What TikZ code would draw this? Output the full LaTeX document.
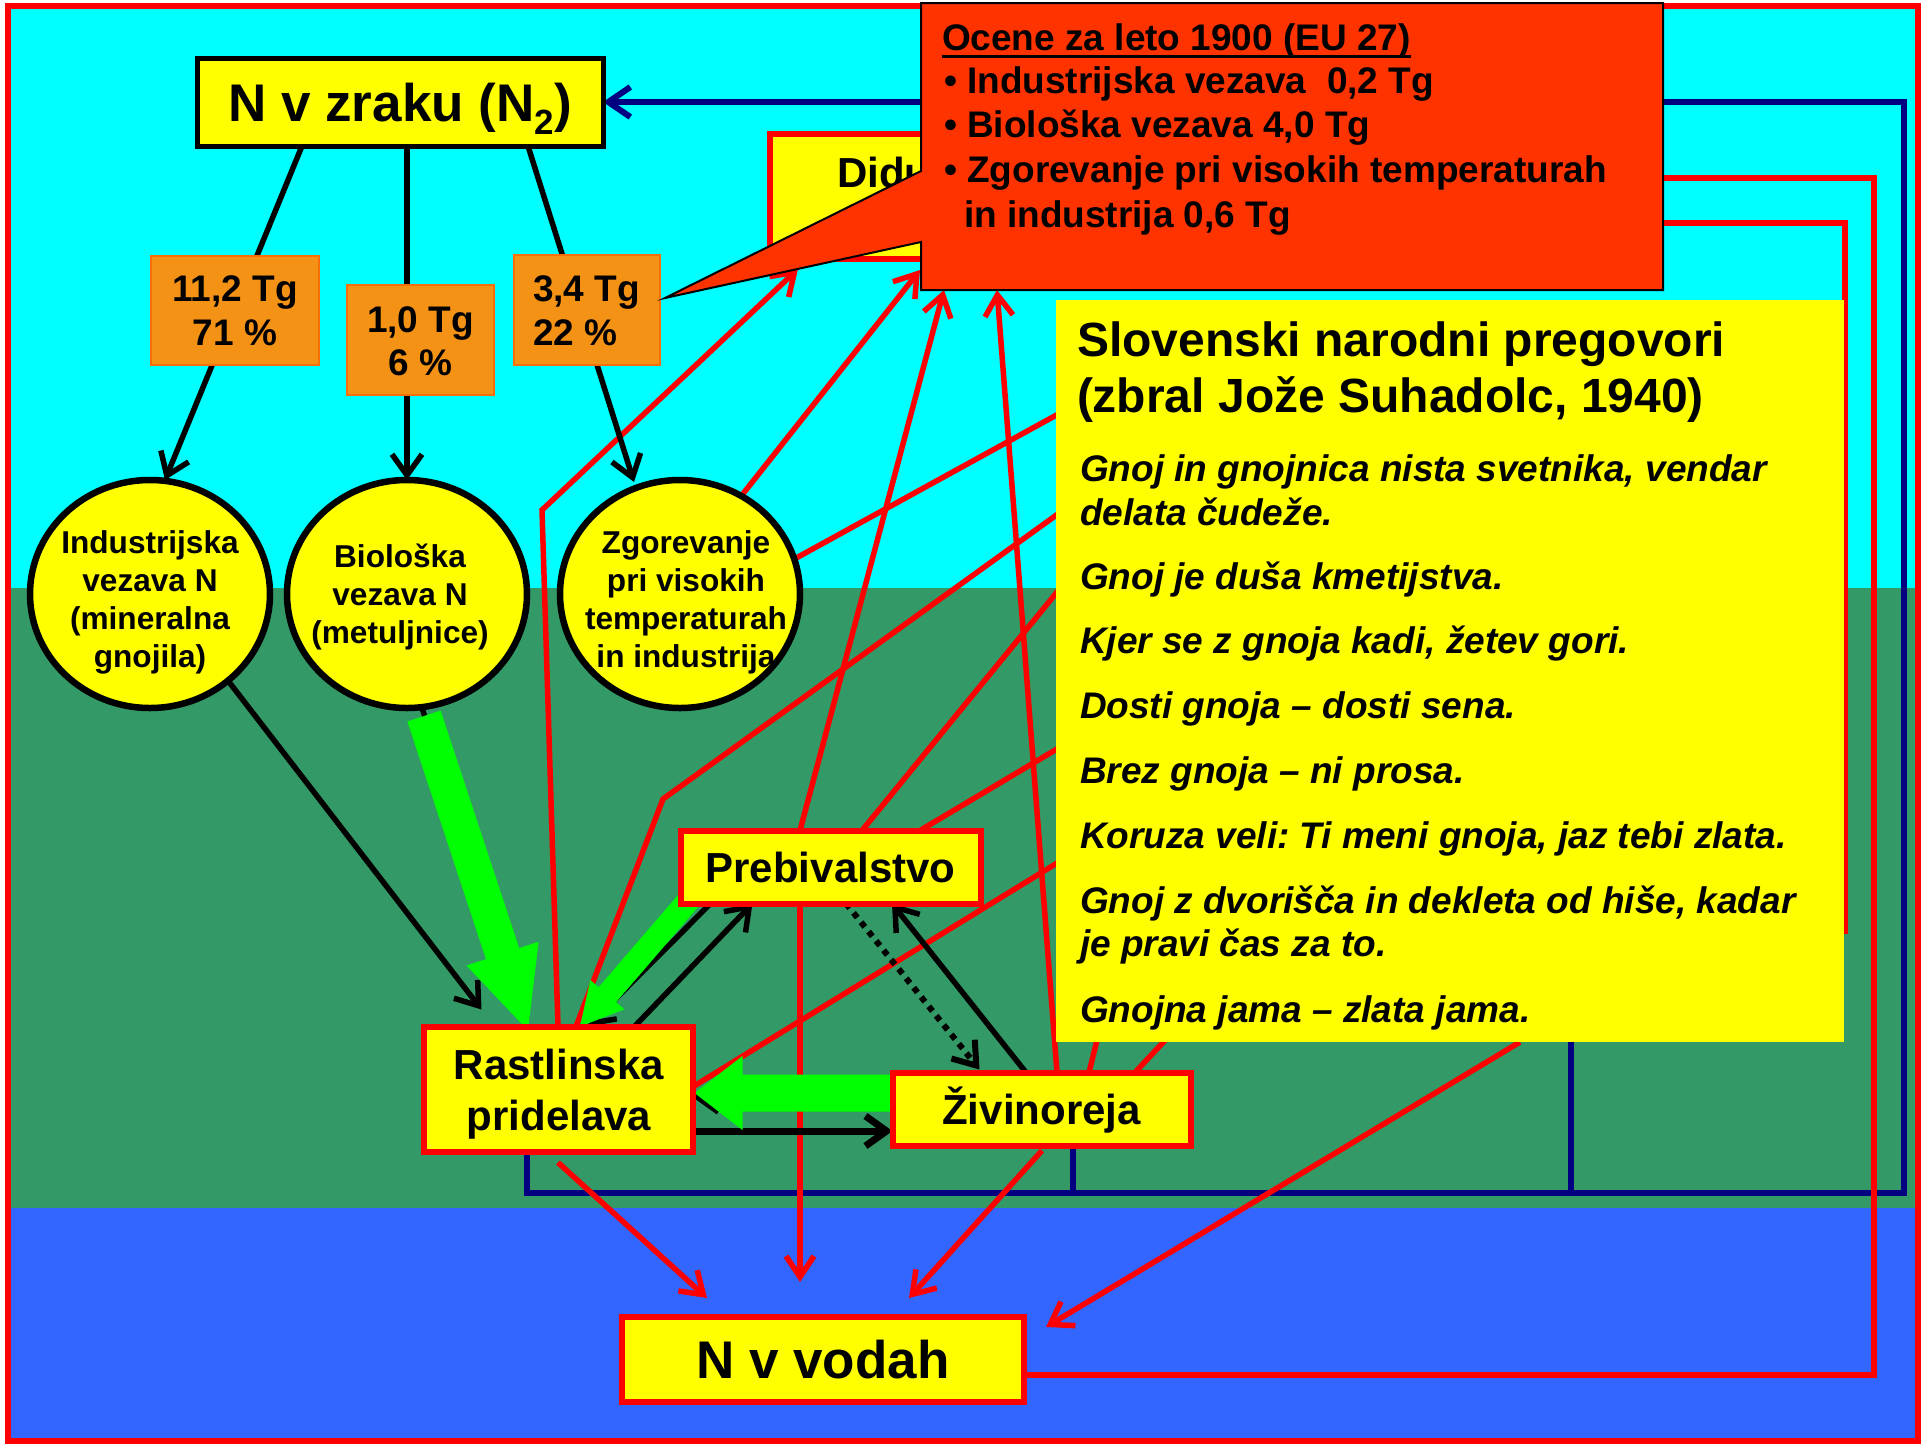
\documentclass[tikz,border=0pt]{standalone}
\usepackage{fontspec}
\setmainfont{Liberation Sans}
\usetikzlibrary{arrows.meta,shapes.geometric,calc}
\frenchspacing

\definecolor{skyc}{RGB}{0,255,255}
\definecolor{fieldc}{RGB}{51,153,102}
\definecolor{waterc}{RGB}{51,102,255}
\definecolor{boxyellow}{RGB}{255,255,0}
\definecolor{tgorange}{RGB}{244,146,22}
\definecolor{tgedge}{RGB}{250,110,10}
\definecolor{calloutc}{RGB}{255,51,0}
\definecolor{navyc}{RGB}{0,0,128}
\definecolor{flowgreen}{RGB}{0,255,0}
\definecolor{redc}{RGB}{255,0,0}

\pgfdeclarelayer{backdrop}
\pgfdeclarelayer{wires}
\pgfdeclarelayer{flows}
\pgfsetlayers{backdrop,wires,flows,main}

\newcommand{\fsz}[2]{\fontsize{#1pt}{#2pt}\selectfont}
% thick green flow arrow: start, tip, shaft half width, head length, head half width
\newcommand{\greenflow}[5]{%
  \coordinate (gfbase) at ($(#2)!#4!(#1)$);
  \fill[flowgreen] ($(#1)!#3!90:(#2)$) -- ($(gfbase)!#3!90:(#2)$) -- ($(gfbase)!#5!90:(#2)$) -- (#2)
    -- ($(gfbase)!#5!-90:(#2)$) -- ($(gfbase)!#3!-90:(#2)$) -- ($(#1)!#3!-90:(#2)$) -- cycle;}

\begin{document}
\begin{tikzpicture}[x=1pt,y=-1pt,
  every node/.style={inner sep=0pt,outer sep=0pt},
  hub/.style={rectangle,fill=boxyellow,draw=redc,line width=6pt,font=\bfseries\fsz{42}{51},text height=30pt,text depth=0pt},
  tgbox/.style={rectangle,fill=tgorange,draw=tgedge,line width=2pt},
  source/.style={ellipse,fill=boxyellow,draw=black,line width=6.5pt,minimum width=240pt,minimum height=228pt},
  srctext/.style={anchor=base,font=\bfseries\fsz{31.6}{38}},
  tgtext/.style={anchor=base,font=\bfseries\fsz{37}{45}},
  hubtext/.style={anchor=base,font=\bfseries\fsz{42}{51}},
  cline/.style={anchor=base west,font=\bfseries\fsz{37}{44}},
  phead/.style={anchor=base west,font=\bfseries\fsz{48}{56}},
  pline/.style={anchor=base west,font=\bfseries\itshape\fsz{37}{44}},
  blackline/.style={draw=black,line width=5.5pt},
  blackarrow/.style={blackline,-{Straight Barb[length=21pt,width=30pt]}},
  redline/.style={draw=redc,line width=5.5pt},
  redarrow/.style={redline,-{Straight Barb[length=21pt,width=28pt]}},
  navyline/.style={draw=navyc,line width=6pt}
]
\useasboundingbox (0,0) rectangle (1922,1446);

% sky, soil and water bands with the frame
\begin{pgfonlayer}{backdrop}
  \fill[white] (0,0) rectangle (1922,1446);
  \fill[skyc] (8,6) rectangle (1918,588);
  \fill[fieldc] (8,588) rectangle (1918,1208);
  \fill[waterc] (8,1208) rectangle (1918,1441);
  \draw[redc,line width=6.5pt] (8,6) rectangle (1918,1441);
\end{pgfonlayer}

% N in the air
\node[rectangle,fill=boxyellow,draw=black,line width=5pt,minimum width=406pt,minimum height=88pt,
      font=\bfseries\fsz{53}{60},text height=38pt,text depth=0pt] (nzrak) at (400,102)
  {N v zraku (N\raisebox{-13pt}[0pt][0pt]{\fsz{35}{35}2})};

% fixation amounts
\node[tgbox,minimum width=168pt,minimum height=109pt] (tg1) at (235,310) {};
\node[tgtext] (tg1a) at (235,301) {11,2 Tg};
\node[tgtext] (tg1b) at (235,345) {71 \%};
\node[tgbox,minimum width=147pt,minimum height=110pt] (tg2) at (420.5,340) {};
\node[tgtext] (tg2a) at (420.5,332) {1,0 Tg};
\node[tgtext] (tg2b) at (420.5,375) {6 \%};
\node[tgbox,minimum width=146pt,minimum height=110pt] (tg3) at (587,310) {};
\node[tgtext,anchor=base west] (tg3a) at (533,301) {3,4 Tg};
\node[tgtext,anchor=base west] (tg3b) at (533,345) {22 \%};

% fixation sources
\node[source] (e1) at (150,594) {};
\node[srctext] (e1a) at (150,553) {Industrijska};
\node[srctext] (e1b) at (150,591) {vezava N};
\node[srctext] (e1c) at (150,629) {(mineralna};
\node[srctext] (e1d) at (150,667) {gnojila)};
\node[source] (e2) at (407,594) {};
\node[srctext] (e2a) at (400,567) {Biološka};
\node[srctext] (e2b) at (400,605) {vezava N};
\node[srctext] (e2c) at (400,643) {(metuljnice)};
\node[source] (e3) at (680,594) {};
\node[srctext] (e3a) at (686,553) {Zgorevanje};
\node[srctext] (e3b) at (686,591) {pri visokih};
\node[srctext] (e3c) at (686,629) {temperaturah};
\node[srctext] (e3d) at (686,667) {in industrija};

% land use and water
\node[hub,minimum width=269pt,minimum height=125pt] (rast) at (558,1089) {};
\node[hubtext] (rasta) at (559,1079) {Rastlinska};
\node[hubtext] (rastb) at (559,1130) {pridelava};
\node[hub,minimum width=300pt,minimum height=73pt] (preb) at (830.5,867) {Prebivalstvo};
\node[hub,minimum width=298pt,minimum height=73pt] (ziv) at (1041.5,1109) {Živinoreja};
\node[hub,minimum width=402pt,minimum height=85pt,font=\bfseries\fsz{53}{60},text height=38pt] (voda) at (823,1359.5) {N v vodah};

% nitrous oxide box, partly under the note
\node[rectangle,fill=boxyellow,draw=redc,line width=5.5pt,minimum width=180pt,minimum height=125pt] (didu) at (860,196.5) {};
\node[anchor=base west,font=\bfseries\fsz{42}{51}] (didut) at (837,187) {Didu};

% estimates note with pointer
\node[rectangle,minimum width=742pt,minimum height=287pt] (callout) at (1292,146.5) {};
\coordinate (ctip) at ($(tg3.east)+(5,-12)$);
\filldraw[fill=calloutc,draw=black,line width=2pt]
  (callout.north west) -- (callout.north east) -- (callout.south east) -- (callout.south west)
  -- ($(callout.south west)+(0,-48)$) -- (ctip) -- ($(callout.north west)+(0,168)$) -- cycle;
\node[cline] (c1) at (942,50) {Ocene za leto 1900 (EU 27)};
\draw[line width=3pt] ($(c1.base west)+(0,6)$) -- ($(c1.base east)+(0,6)$);
\node[cline] (c2) at (944,93) {• Industrijska vezava~~0,2 Tg};
\node[cline] (c3) at (944,137) {• Biološka vezava 4,0 Tg};
\node[cline] (c4) at (944,182) {• Zgorevanje pri visokih temperaturah};
\node[cline] (c5) at (964,227) {in industrija 0,6 Tg};

% proverbs panel
\node[rectangle,fill=boxyellow,minimum width=788pt,minimum height=742pt] (preg) at (1450,671) {};
\node[phead] (ph1) at (1077,356) {Slovenski narodni pregovori};
\node[phead] (ph2) at (1077,412) {(zbral Jože Suhadolc, 1940)};
\node[pline] (pl1) at (1080,481) {Gnoj in gnojnica nista svetnika, vendar};
\node[pline] (pl2) at (1080,525) {delata čudeže.};
\node[pline] (pl3) at (1080,589) {Gnoj je duša kmetijstva.};
\node[pline] (pl4) at (1080,653) {Kjer se z gnoja kadi, žetev gori.};
\node[pline] (pl5) at (1080,718) {Dosti gnoja -- dosti sena.};
\node[pline] (pl6) at (1080,783) {Brez gnoja -- ni prosa.};
\node[pline] (pl7) at (1080,848) {Koruza veli: Ti meni gnoja, jaz tebi zlata.};
\node[pline] (pl8) at (1080,913) {Gnoj z dvorišča in dekleta od hiše, kadar};
\node[pline] (pl9) at (1080,956) {je pravi čas za to.};
\node[pline] (pl10) at (1080,1022) {Gnojna jama -- zlata jama.};

\begin{pgfonlayer}{wires}
  % navy return path to the air
  \draw[navyline,-{Straight Barb[length=22pt,width=30pt]}] ($(rast.south)+(-31,0)$) |- ($(nzrak.east)+(1301,1091)$) |- (nzrak.east);
  \draw[navyline] ($(ziv.south)+(31.5,0)$) -- ++(0,48);
  \draw[navyline] ($(preg.south west)+(515,0)$) -- ++(0,151);
  % losses
  \draw[redarrow] (rast.north) -- ++(-16,-516.5) -- ($(didu.south)+(-62,10)$);
  \draw[redline] ($(rast.north)+(18,0)$) -- ++(87,-227.5) -- ($(preg.north west)+(6,211)$);
  \draw[redarrow] (e3.58) -- ($(callout.south west)+(-1,-20)$);
  \draw[redarrow] ($(preb.north)+(-30.5,0)$) -- ($(callout.south west)+(23,0)$);
  \draw[redarrow] ($(ziv.north)+(15.5,0)$) -- ($(callout.south west)+(76,0)$);
  \draw[redline] (e3.17) -- ($(preg.north west)+(6,112)$);
  \draw[redline] ($(preb.north)+(31.5,0)$) -- ($(preg.north west)+(6,286)$);
  \draw[redline] ($(preb.north east)+(-60.5,0)$) -- ($(preg.north west)+(6,446)$);
  \draw[redline] ($(rast.east)+(0,-2)$) -- ($(preg.north west)+(6,560)$);
  \draw[redline] ($(ziv.north)+(47.5,0)$) -- ($(preg.south west)+(42,-6)$);
  \draw[redline] ($(ziv.north)+(93.5,0)$) -- ($(preg.south west)+(113,-6)$);
  \draw[redarrow] ($(preg.south west)+(464,0)$) -- ($(voda.north east)+(22,10)$);
  \draw[redarrow] ($(rast.south)+(0,11)$) -- ($(voda.north west)+(85,-19)$);
  \draw[redarrow] ($(preb.south)+(-30.5,0)$) -- ($(voda.north)+(-23,-35)$);
  \draw[redarrow] ($(ziv.south)+(0.5,5)$) -- ($(voda.north)+(86,-19)$);
  \draw[redline,line width=6.5pt] ($(voda.east)+(0,15.5)$) -| ($(callout.north east)+(211,175)$) -- ($(callout.north east)+(0,175)$);
  \draw[redline,line width=6pt] ($(callout.north east)+(0,220)$) -- ++(182,0) -- ++(0,711);
  % fixation and exchange
  \draw[blackarrow] ($(nzrak.south)+(-98,0)$) -- ($(e1.north)+(15,0)$);
  \draw[blackarrow] ($(nzrak.south)+(7,0)$) -- (e2.north);
  \draw[blackarrow] ($(nzrak.south)+(128,0)$) -- ($(e3.north)+(-46,2)$);
  \draw[blackarrow] (e1.-48) -- ($(rast.north west)+(58,-17)$);
  \draw[blackline] ($(e2.south)+(15,0)$) -- ($(rast.north)+(-40,-30)$);
  \draw[blackarrow] ($(rast.north east)+(-58,0)$) -- ($(preb.south west)+(72,0)$);
  \draw[blackarrow] ($(preb.south west)+(30,0)$) -- ($(rast.north)+(30,0)$);
  \draw[blackarrow] ($(ziv.north)+(-15.5,0)$) -- ($(preb.south)+(61.5,0)$);
  \draw[blackarrow,line width=6pt,dash pattern=on 6pt off 6pt] ($(preb.south)+(15.5,0)$) -- ($(ziv.north west)+(87,-3)$);
  \draw[blackarrow,line width=7pt] ($(rast.east)+(0,42)$) -- ($(ziv.west)+(0,22)$);
  \draw[blackarrow] ($(ziv.west)+(0,-12)$) -- ($(rast.east)+(0,8)$);
\end{pgfonlayer}

\begin{pgfonlayer}{flows}
  \coordinate (g1s) at ($(e2.south)+(17,8)$);
  \coordinate (g1t) at ($(rast.north)+(-30,4)$);
  \greenflow{g1s}{g1t}{17.5pt}{81pt}{38pt}
  \coordinate (g2s) at ($(preb.south west)+(14,-10)$);
  \coordinate (g2t) at ($(rast.north)+(22,0)$);
  \greenflow{g2s}{g2t}{11.5pt}{42pt}{22.5pt}
  \coordinate (g3s) at ($(ziv.west)+(0,-16)$);
  \coordinate (g3t) at ($(rast.east)+(2,4)$);
  \greenflow{g3s}{g3t}{18.5pt}{48pt}{37pt}
\end{pgfonlayer}
\end{tikzpicture}
\end{document}
